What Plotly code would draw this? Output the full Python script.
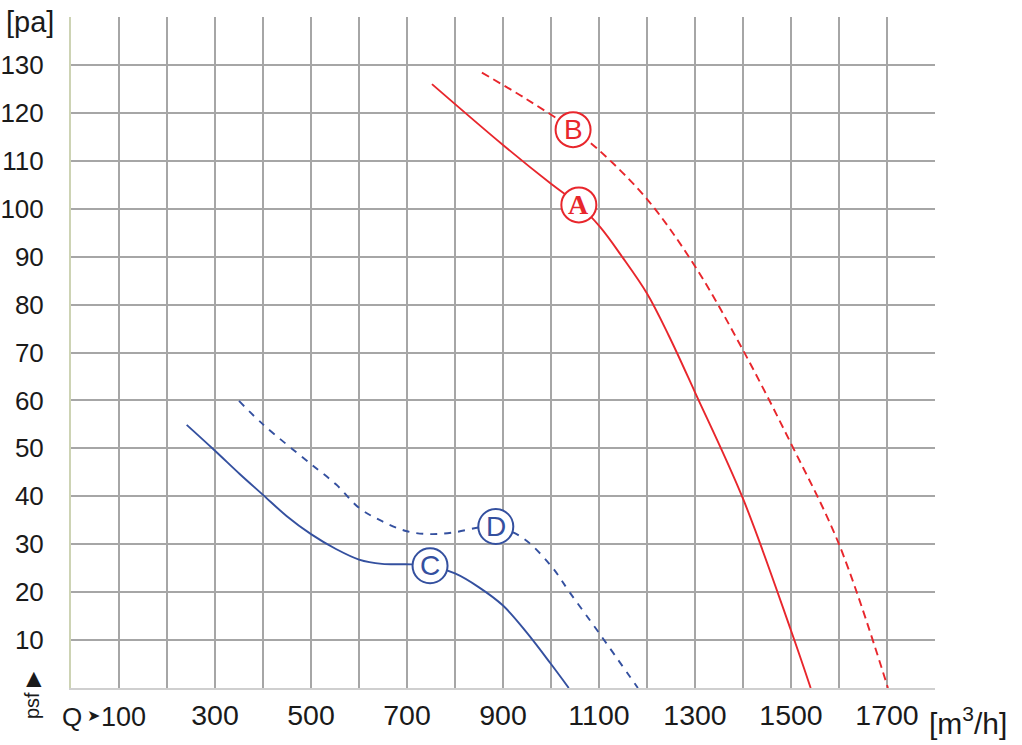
import plotly.graph_objects as go

# fan curves: Q in m3/h, static pressure in pa
a_q = [752, 900, 1000, 1058, 1103, 1148, 1200, 1245, 1300, 1400, 1500, 1541]
a_p = [126, 113.3, 105.2, 100.8, 96.1, 90, 82.3, 73.6, 61.7, 39.5, 12, 0]

b_q = [856, 950, 1046, 1100, 1200, 1300, 1400, 1500, 1600, 1702]
b_p = [128.4, 122.8, 116.5, 112.2, 102, 88, 70.5, 51, 30, 0]

c_q = [241, 300, 352, 400, 449, 500, 552, 600, 648, 710, 748, 800, 850, 900, 950, 1000, 1037]
c_p = [54.9, 49.5, 44.6, 40.3, 35.9, 32.1, 29, 26.8, 25.9, 25.8, 25.5, 23.9, 21, 17.2, 11.5, 5, 0]

d_q = [350, 400, 500, 552, 600, 648, 700, 750, 800, 850, 885, 940, 1000, 1040, 1100, 1181]
d_p = [59.9, 55, 46.7, 42.5, 37.6, 34.8, 32.7, 32.1, 32.5, 33.5, 33.7, 31.4, 25.5, 19.8, 11.5, 0]

# curve tags (letter, q, p)
tag_names = ["A", "B", "C", "D"]
tag_q = [1058, 1046, 748, 885]
tag_p = [100.8, 116.5, 25.5, 33.7]

x_ticks = list(range(0, 1900, 100))
x_labels = ["", "", "", "300", "", "500", "", "700", "", "900", "", "1100", "",
            "1300", "", "1500", "", "1700", ""]
y_ticks = list(range(0, 150, 10))
y_labels = [""] + [str(v) for v in range(10, 140, 10)] + [""]

RED = "#e8262c"
BLUE = "#34509f"
TXT = "#1a1a1a"
FONT = "Liberation Sans, Arial, sans-serif"

fig = go.Figure()
curves = [
    (a_q, a_p, RED, "solid"),
    (b_q, b_p, RED, "8px,5px"),
    (c_q, c_p, BLUE, "solid"),
    (d_q, d_p, BLUE, "7px,7px"),
]
for q, p, col, dash in curves:
    fig.add_trace(go.Scatter(
        x=q, y=p, mode="lines",
        line=dict(color=col, width=1.9, dash=dash, shape="spline", smoothing=1.0),
        hoverinfo="skip",
    ))

tag_cols = [RED, RED, BLUE, BLUE]
tag_fonts = ["Liberation Serif, Times New Roman, serif", FONT, FONT, FONT]
fig.add_trace(go.Scatter(
    x=tag_q, y=tag_p, mode="markers",
    marker=dict(size=35, color="white", line=dict(color=tag_cols, width=2)),
    hoverinfo="skip",
))
for name, q, p, col, fnt in zip(tag_names, tag_q, tag_p, tag_cols, tag_fonts):
    fig.add_annotation(
        x=q, y=p, text=f"<b>{name}</b>" if name == "A" else name,
        showarrow=False, font=dict(size=28, color=col, family=fnt),
    )

# axis captions
fig.add_annotation(x=-0.0775, y=1.0, xref="paper", yref="paper", text="[pa]",
                   showarrow=False, xanchor="left", yanchor="middle", yshift=-5,
                   font=dict(size=29, color=TXT, family=FONT))
fig.add_annotation(x=-0.045, y=-0.0104, xref="paper", yref="paper", text="psf \u25b6",
                   showarrow=False, textangle=-90, xanchor="center", yanchor="middle",
                   font=dict(size=20, color=TXT, family=FONT))
fig.add_annotation(x=3, y=0, yref="paper", text="Q",
                   showarrow=False, xanchor="center", yanchor="top", yshift=-12,
                   font=dict(size=26, color=TXT, family=FONT))
fig.add_annotation(x=46, y=0, yref="paper", text="\u27a4",
                   showarrow=False, xanchor="center", yanchor="top", yshift=-17,
                   font=dict(size=16, color=TXT, family=FONT))
fig.add_annotation(x=160, y=0, yref="paper", text="100",
                   showarrow=False, xanchor="right", yanchor="top", yshift=-12,
                   font=dict(size=27, color=TXT, family=FONT))
fig.add_annotation(x=0.991, y=0, xref="paper", yref="paper", text="[m<sup>3</sup>/h]",
                   showarrow=False, xanchor="left", yanchor="top", yshift=-12,
                   font=dict(size=30, color=TXT, family=FONT))

fig.update_xaxes(
    range=[0, 1800], tickvals=x_ticks, ticktext=x_labels,
    showgrid=True, gridcolor="#a6a6a6", gridwidth=1.7, zeroline=False,
    showline=True, linecolor="#cfcfcf", linewidth=2,
    ticks="", ticklabelstandoff=1, automargin=False,
    tickfont=dict(size=28.5, color=TXT, family=FONT),
)
fig.update_yaxes(
    range=[0, 140], tickvals=y_ticks, ticktext=y_labels,
    showgrid=True, gridcolor="#a6a6a6", gridwidth=1.7, zeroline=False,
    showline=True, linecolor="#cdd3b4", linewidth=2,
    ticks="", ticklabelstandoff=20, automargin=False,
    tickfont=dict(size=26, color=TXT, family=FONT),
)
fig.update_layout(
    width=1022, height=745,
    margin=dict(l=71, r=87, t=17, b=57),
    paper_bgcolor="white", plot_bgcolor="white",
    showlegend=False,
)
# drop the browser's default body margin so the figure sits flush with the window
fig.write_html("out.html", config={"displayModeBar": False},
               post_script="document.body.style.margin='0';")
